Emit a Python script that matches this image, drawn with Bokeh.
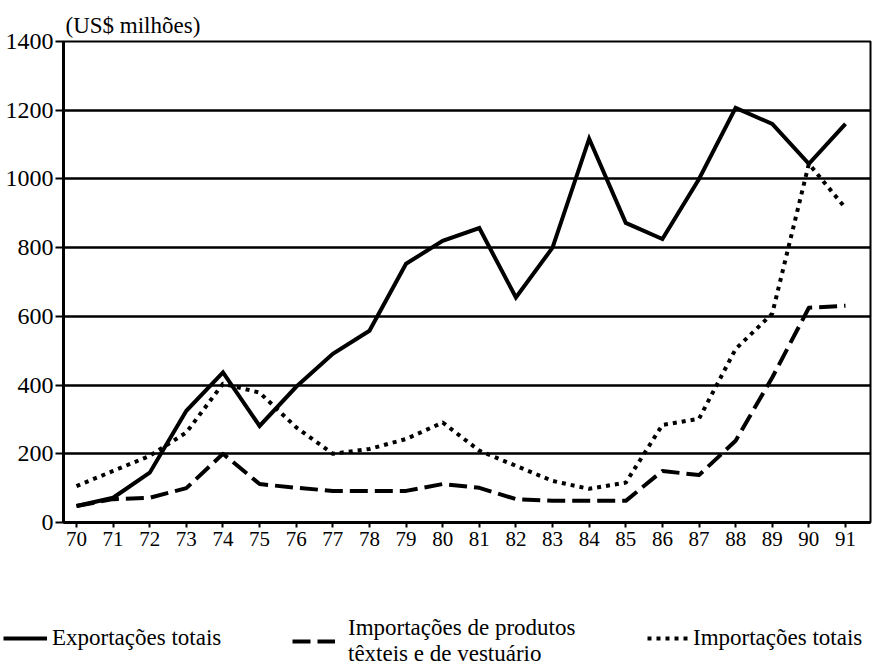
from bokeh.plotting import figure
from bokeh.models import Range1d, Legend, LegendItem, FixedTicker
from bokeh.layouts import column
from bokeh.embed import file_html
from bokeh.resources import INLINE

# ---- data ----
years = list(range(70, 92))
exportacoes_totais = [48, 72, 145, 325, 437, 281, 395, 491, 558, 753, 820, 857,
                      655, 800, 1117, 872, 825, 1000, 1207, 1160, 1044, 1160]
importacoes_texteis = [48, 68, 72, 100, 200, 112, 101, 92, 92, 92, 112, 101,
                       68, 63, 63, 63, 150, 138, 238, 422, 625, 631]
importacoes_totais = [106, 150, 194, 262, 404, 378, 277, 200, 214, 243, 291, 209,
                      165, 121, 98, 116, 284, 302, 505, 608, 1044, 915]
y_ticks = [0, 200, 400, 600, 800, 1000, 1200, 1400]
x_ticks = years
title_text = "(US$ milhões)"
legend_labels = ["Exportações totais",
                 "Importações de produtos\ntêxteis e de vestuário",
                 "Importações totais"]

FONT = "Liberation Serif"
W = 872

p = figure(width=W, height=560, output_backend="svg", toolbar_location=None,
           x_range=Range1d(69.645, 91.683), y_range=Range1d(0, 1400),
           min_border_left=63, min_border_right=2, min_border_top=41,
           min_border_bottom=38, background_fill_color="white",
           border_fill_color="white")

p.title.text = title_text
p.title.text_font = FONT
p.title.text_font_size = "23px"
p.title.text_font_style = "normal"
p.title.text_color = "black"
p.title.align = "left"
p.title.offset = 2
p.title.standoff = 8

p.outline_line_color = "black"
p.outline_line_width = 2

# grid
p.xgrid.grid_line_color = None
p.ygrid.ticker = FixedTicker(ticks=y_ticks)
p.ygrid.grid_line_color = "black"
p.ygrid.grid_line_width = 2.5

# axes
p.yaxis.ticker = FixedTicker(ticks=y_ticks)
p.xaxis.ticker = FixedTicker(ticks=x_ticks)
for ax in (p.xaxis[0], p.yaxis[0]):
    ax.axis_line_color = "black"
    ax.axis_line_width = 3
    ax.major_tick_line_color = "black"
    ax.major_tick_line_width = 2
    ax.major_tick_in = 0
    ax.minor_tick_line_color = None
    ax.major_label_text_font = FONT
    ax.major_label_text_color = "black"
p.yaxis.major_tick_out = 8
p.yaxis.major_label_standoff = 2
p.yaxis.major_label_text_font_size = "24px"
p.xaxis.major_tick_out = 5
p.xaxis.major_label_standoff = 4
p.xaxis.major_label_text_font_size = "21px"

styles = [dict(line_color="black", line_width=4, line_join="miter"),
          dict(line_color="black", line_width=4, line_dash="18 7", line_join="round"),
          dict(line_color="black", line_width=4, line_dash="4 5", line_join="round")]
series = [exportacoes_totais, importacoes_texteis, importacoes_totais]

# series
for s, st in zip(series, styles):
    p.line(years, s, **st)

# legend strip below the chart (its frame is not aligned with the chart's)
leg = figure(width=W, height=106, output_backend="svg", toolbar_location=None,
             x_range=Range1d(0, 1), y_range=Range1d(0, 1),
             min_border_left=0, min_border_right=0, min_border_top=0,
             min_border_bottom=0, background_fill_color="white",
             border_fill_color="white")
leg.frame_align = False
leg.axis.visible = False
leg.grid.visible = False
leg.outline_line_color = None
# same series, kept outside this strip's view: only their legend glyphs show
keys = [leg.line(years, s, **st) for s, st in zip(series, styles)]


def make_legend(label, renderer, loc, gw, standoff):
    lg = Legend(items=[LegendItem(label=label, renderers=[renderer])],
                location=loc, orientation="vertical",
                glyph_width=gw, glyph_height=22, label_height=22,
                label_standoff=standoff, padding=0, margin=0,
                border_line_color=None, background_fill_alpha=0,
                label_text_font=FONT, label_text_font_size="23px",
                label_text_line_height=0.8,
                label_text_color="black", spacing=0)
    leg.add_layout(lg)


make_legend(legend_labels[0], keys[0], (3, 15), 44, 5)
make_legend(legend_labels[1], keys[1], (292, -1), 43, 13)
make_legend(legend_labels[2], keys[2], (647, 15), 41, 5)

page = column(p, leg, spacing=0)
open("out.html", "w").write(file_html(page, INLINE))
